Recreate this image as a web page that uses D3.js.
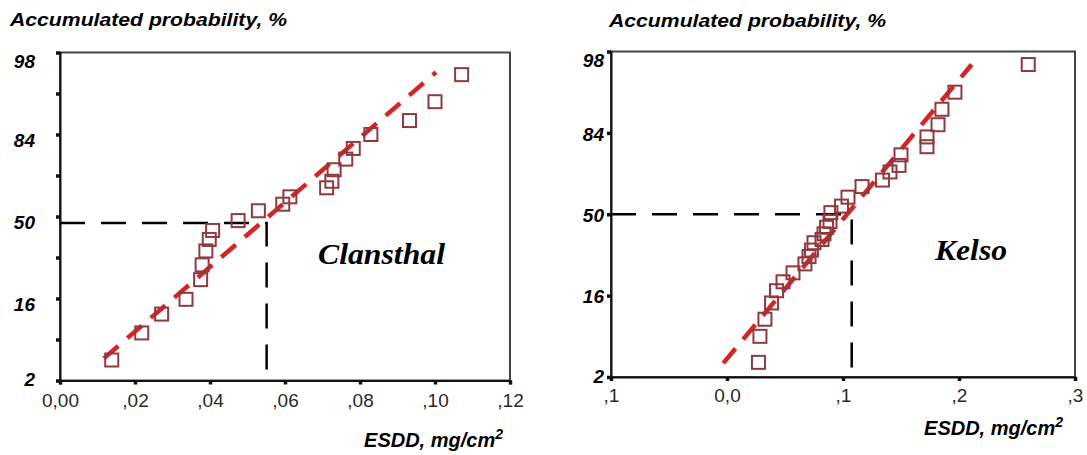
<!DOCTYPE html>
<html>
<head>
<meta charset="utf-8">
<script src="https://cdn.jsdelivr.net/npm/d3@7/dist/d3.min.js"></script>
<style>
body { margin: 0; background: #fff; }
</style>
</head>
<body>
<div id="chart-area"></div>
<script>
// normal probability plots, y axis = expected normal value (z), labelled as accumulated %
const probTicksLeft = [-2, -1.5, -1, -0.5, 0, 0.5, 1, 1.5, 2];
const probTicksRight = [-2, -1, 0, 1, 2];
const probLabelZ = [-2, -1, 0, 1, 2];
const probLabels = ["2", "16", "50", "84", "98"];

// Clansthal
const clansthalXTicks = [0, 0.02, 0.04, 0.06, 0.08, 0.10, 0.12];
const clansthalXLabels = ["0,00", ",02", ",04", ",06", ",08", ",10", ",12"];
const clansthalEsdd = [0.1071, 0.1000, 0.0932, 0.0829, 0.0782, 0.0762, 0.0731, 0.0725, 0.0711, 0.0613, 0.0594,
                       0.0529, 0.0475, 0.0407, 0.0398, 0.0389, 0.0379, 0.0375, 0.0336, 0.0271, 0.0218, 0.0138];
const clansthalZ = [1.73, 1.40, 1.17, 1.00, 0.83, 0.70, 0.57, 0.43, 0.35, 0.24, 0.15,
                    0.07, -0.05, -0.17, -0.28, -0.42, -0.59, -0.77, -1.01, -1.19, -1.42, -1.75];
const clansthalFitEsdd = [0.0117, 0.1003];
const clansthalFitZ = [-1.73, 1.76];
const clansthalMark = [0.0551, -0.08];   // esdd, z of the dashed 50% guide

// Kelso
const kelsoXTicks = [-0.1, 0, 0.1, 0.2, 0.3];
const kelsoXLabels = [",1", "0,0", ",1", ",2", ",3"];
const kelsoEsdd = [0.2597, 0.1965, 0.1853, 0.1819, 0.1724, 0.1724, 0.1500, 0.1483, 0.1405, 0.1340, 0.1164,
                   0.1043, 0.0987, 0.0896, 0.0888, 0.0858, 0.0836, 0.0819, 0.0750, 0.0728, 0.0707, 0.0672,
                   0.0569, 0.0483, 0.0427, 0.0384, 0.0327, 0.0284, 0.0271];
const kelsoZ = [1.84, 1.50, 1.29, 1.10, 0.95, 0.83, 0.73, 0.60, 0.52, 0.42, 0.34,
                0.21, 0.10, 0.02, -0.09, -0.16, -0.24, -0.31, -0.35, -0.44, -0.52, -0.61,
                -0.72, -0.83, -0.94, -1.09, -1.29, -1.50, -1.82];
const kelsoFitEsdd = [-0.0032, 0.2109];
const kelsoFitZ = [-1.83, 1.84];
const kelsoMark = [0.1075, 0];

var sans = "'Liberation Sans', Arial, sans-serif";
var serif = "'Liberation Serif', 'Times New Roman', serif";

var svg = d3.select("#chart-area")
    .append("svg")
        .attr("width", 1087)
        .attr("height", 455);

var panels = [
    {
        name: "Clansthal", esdd: clansthalEsdd, z: clansthalZ,
        fitX: clansthalFitEsdd, fitZ: clansthalFitZ, mark: clansthalMark,
        xTicks: clansthalXTicks, xLabels: clansthalXLabels, yTicks: probTicksLeft,
        xDomain: [0, 0.12], left: 60, right: 510, bottom: 380.5, top: 52.5,
        titleX: 10, titleY: 26, labelX: 35, labelShift: 6,
        esddX: 503, esddY: 447, tickPad: 9, vExtra: 3,
        nameX: 318, nameY: 264, nameLen: 127
    },
    {
        name: "Kelso", esdd: kelsoEsdd, z: kelsoZ,
        fitX: kelsoFitEsdd, fitZ: kelsoFitZ, mark: kelsoMark,
        xTicks: kelsoXTicks, xLabels: kelsoXLabels, yTicks: probTicksRight,
        xDomain: [-0.1, 0.3], left: 611, right: 1075, bottom: 377, top: 51.5,
        titleX: 609, titleY: 27, labelX: 604, labelShift: 1,
        esddX: 1063, esddY: 435, tickPad: 8, vExtra: 0,
        nameX: 935, nameY: 260, nameLen: 72
    }
];

panels.forEach(function(p){
    var g = svg.append("g");

    var x = d3.scaleLinear().domain(p.xDomain).range([p.left, p.right]);
    var y = d3.scaleLinear().domain([-2, 2]).range([p.bottom, p.top]);

    // title
    g.append("text")
        .attr("x", p.titleX)
        .attr("y", p.titleY)
        .style("font-family", sans)
        .style("font-size", "18px")
        .style("font-weight", "bold")
        .style("font-style", "italic")
        .attr("textLength", 277)
        .attr("lengthAdjust", "spacingAndGlyphs")
        .text("Accumulated probability, %");

    // frame
    g.append("rect")
        .attr("x", p.left)
        .attr("y", p.top)
        .attr("width", p.right - p.left)
        .attr("height", p.bottom - p.top)
        .attr("fill", "none")
        .attr("stroke", "#444")
        .attr("stroke-width", 2);

    // axes
    var yAxisCall = d3.axisLeft(y).tickValues(p.yTicks).tickSize(4).tickFormat("");
    var yAxis = g.append("g")
        .attr("class", "y axis")
        .attr("transform", "translate(" + p.left + ",0)")
        .call(yAxisCall);
    yAxis.select(".domain").attr("stroke", "#111").attr("stroke-width", 2);
    yAxis.selectAll(".tick line").attr("stroke", "#111").attr("stroke-width", 3.5);

    var xAxisCall = d3.axisBottom(x)
        .tickValues(p.xTicks)
        .tickSize(4)
        .tickPadding(p.tickPad)
        .tickFormat(function(d, i){ return p.xLabels[i]; });
    var xAxis = g.append("g")
        .attr("class", "x axis")
        .attr("transform", "translate(0," + p.bottom + ")")
        .call(xAxisCall);
    xAxis.select(".domain").attr("stroke", "#111").attr("stroke-width", 2);
    xAxis.selectAll(".tick line").attr("stroke", "#111").attr("stroke-width", 3.5);
    xAxis.selectAll("text")
        .style("font-family", sans)
        .style("font-size", "19px")
        .attr("fill", "#2a2a2a");

    // y labels
    g.selectAll(".ylab").data(probLabels).enter()
        .append("text")
        .attr("class", "ylab")
        .attr("x", p.labelX)
        .attr("y", function(d, i){
            var yy = y(probLabelZ[i]) + p.labelShift;
            return Math.min(Math.max(yy, p.top + 9), p.bottom - 1);
        })
        .attr("dy", "0.35em")
        .attr("text-anchor", "end")
        .style("font-family", sans)
        .style("font-size", "19px")
        .style("font-weight", "bold")
        .style("font-style", "italic")
        .text(function(d){ return d; });

    // 50% guide
    var my = y(p.mark[1]), mx = x(p.mark[0]);
    g.append("path")
        .attr("d", "M" + p.left + "," + my + "H" + mx + "V" + (p.bottom + p.vExtra))
        .attr("fill", "none")
        .attr("stroke", "#000")
        .attr("stroke-width", 2.5)
        .attr("stroke-dasharray", "25,16");

    // fitted normal line
    var fit = p.fitX.map(function(v, i){ return [v, p.fitZ[i]]; });
    g.append("path")
        .datum(fit)
        .attr("d", d3.line().x(function(d){ return x(d[0]); }).y(function(d){ return y(d[1]); }))
        .attr("fill", "none")
        .attr("stroke", "#d42424")
        .attr("stroke-width", 4.5)
        .attr("stroke-dasharray", "19,12");

    // observed points
    var pts = p.esdd.map(function(v, i){ return {esdd: v, z: p.z[i]}; });
    g.selectAll(".pt").data(pts).enter()
        .append("rect")
        .attr("class", "pt")
        .attr("x", function(d){ return x(d.esdd) - 6.5; })
        .attr("y", function(d){ return y(d.z) - 6.5; })
        .attr("width", 13)
        .attr("height", 13)
        .attr("fill", "none")
        .attr("stroke", "#8e3a3e")
        .attr("stroke-width", 2);

    // station name
    g.append("text")
        .attr("x", p.nameX)
        .attr("y", p.nameY)
        .style("font-family", serif)
        .style("font-size", "30px")
        .style("font-weight", "bold")
        .style("font-style", "italic")
        .attr("textLength", p.nameLen)
        .attr("lengthAdjust", "spacingAndGlyphs")
        .text(p.name);

    // x axis label
    var xl = g.append("text")
        .attr("x", p.esddX)
        .attr("y", p.esddY)
        .attr("text-anchor", "end")
        .style("font-family", sans)
        .style("font-size", "20px")
        .style("font-weight", "bold")
        .style("font-style", "italic");
    xl.append("tspan").text("ESDD, mg/cm");
    xl.append("tspan").attr("dy", -8).style("font-size", "14px").text("2");
});
</script>
</body>
</html>
